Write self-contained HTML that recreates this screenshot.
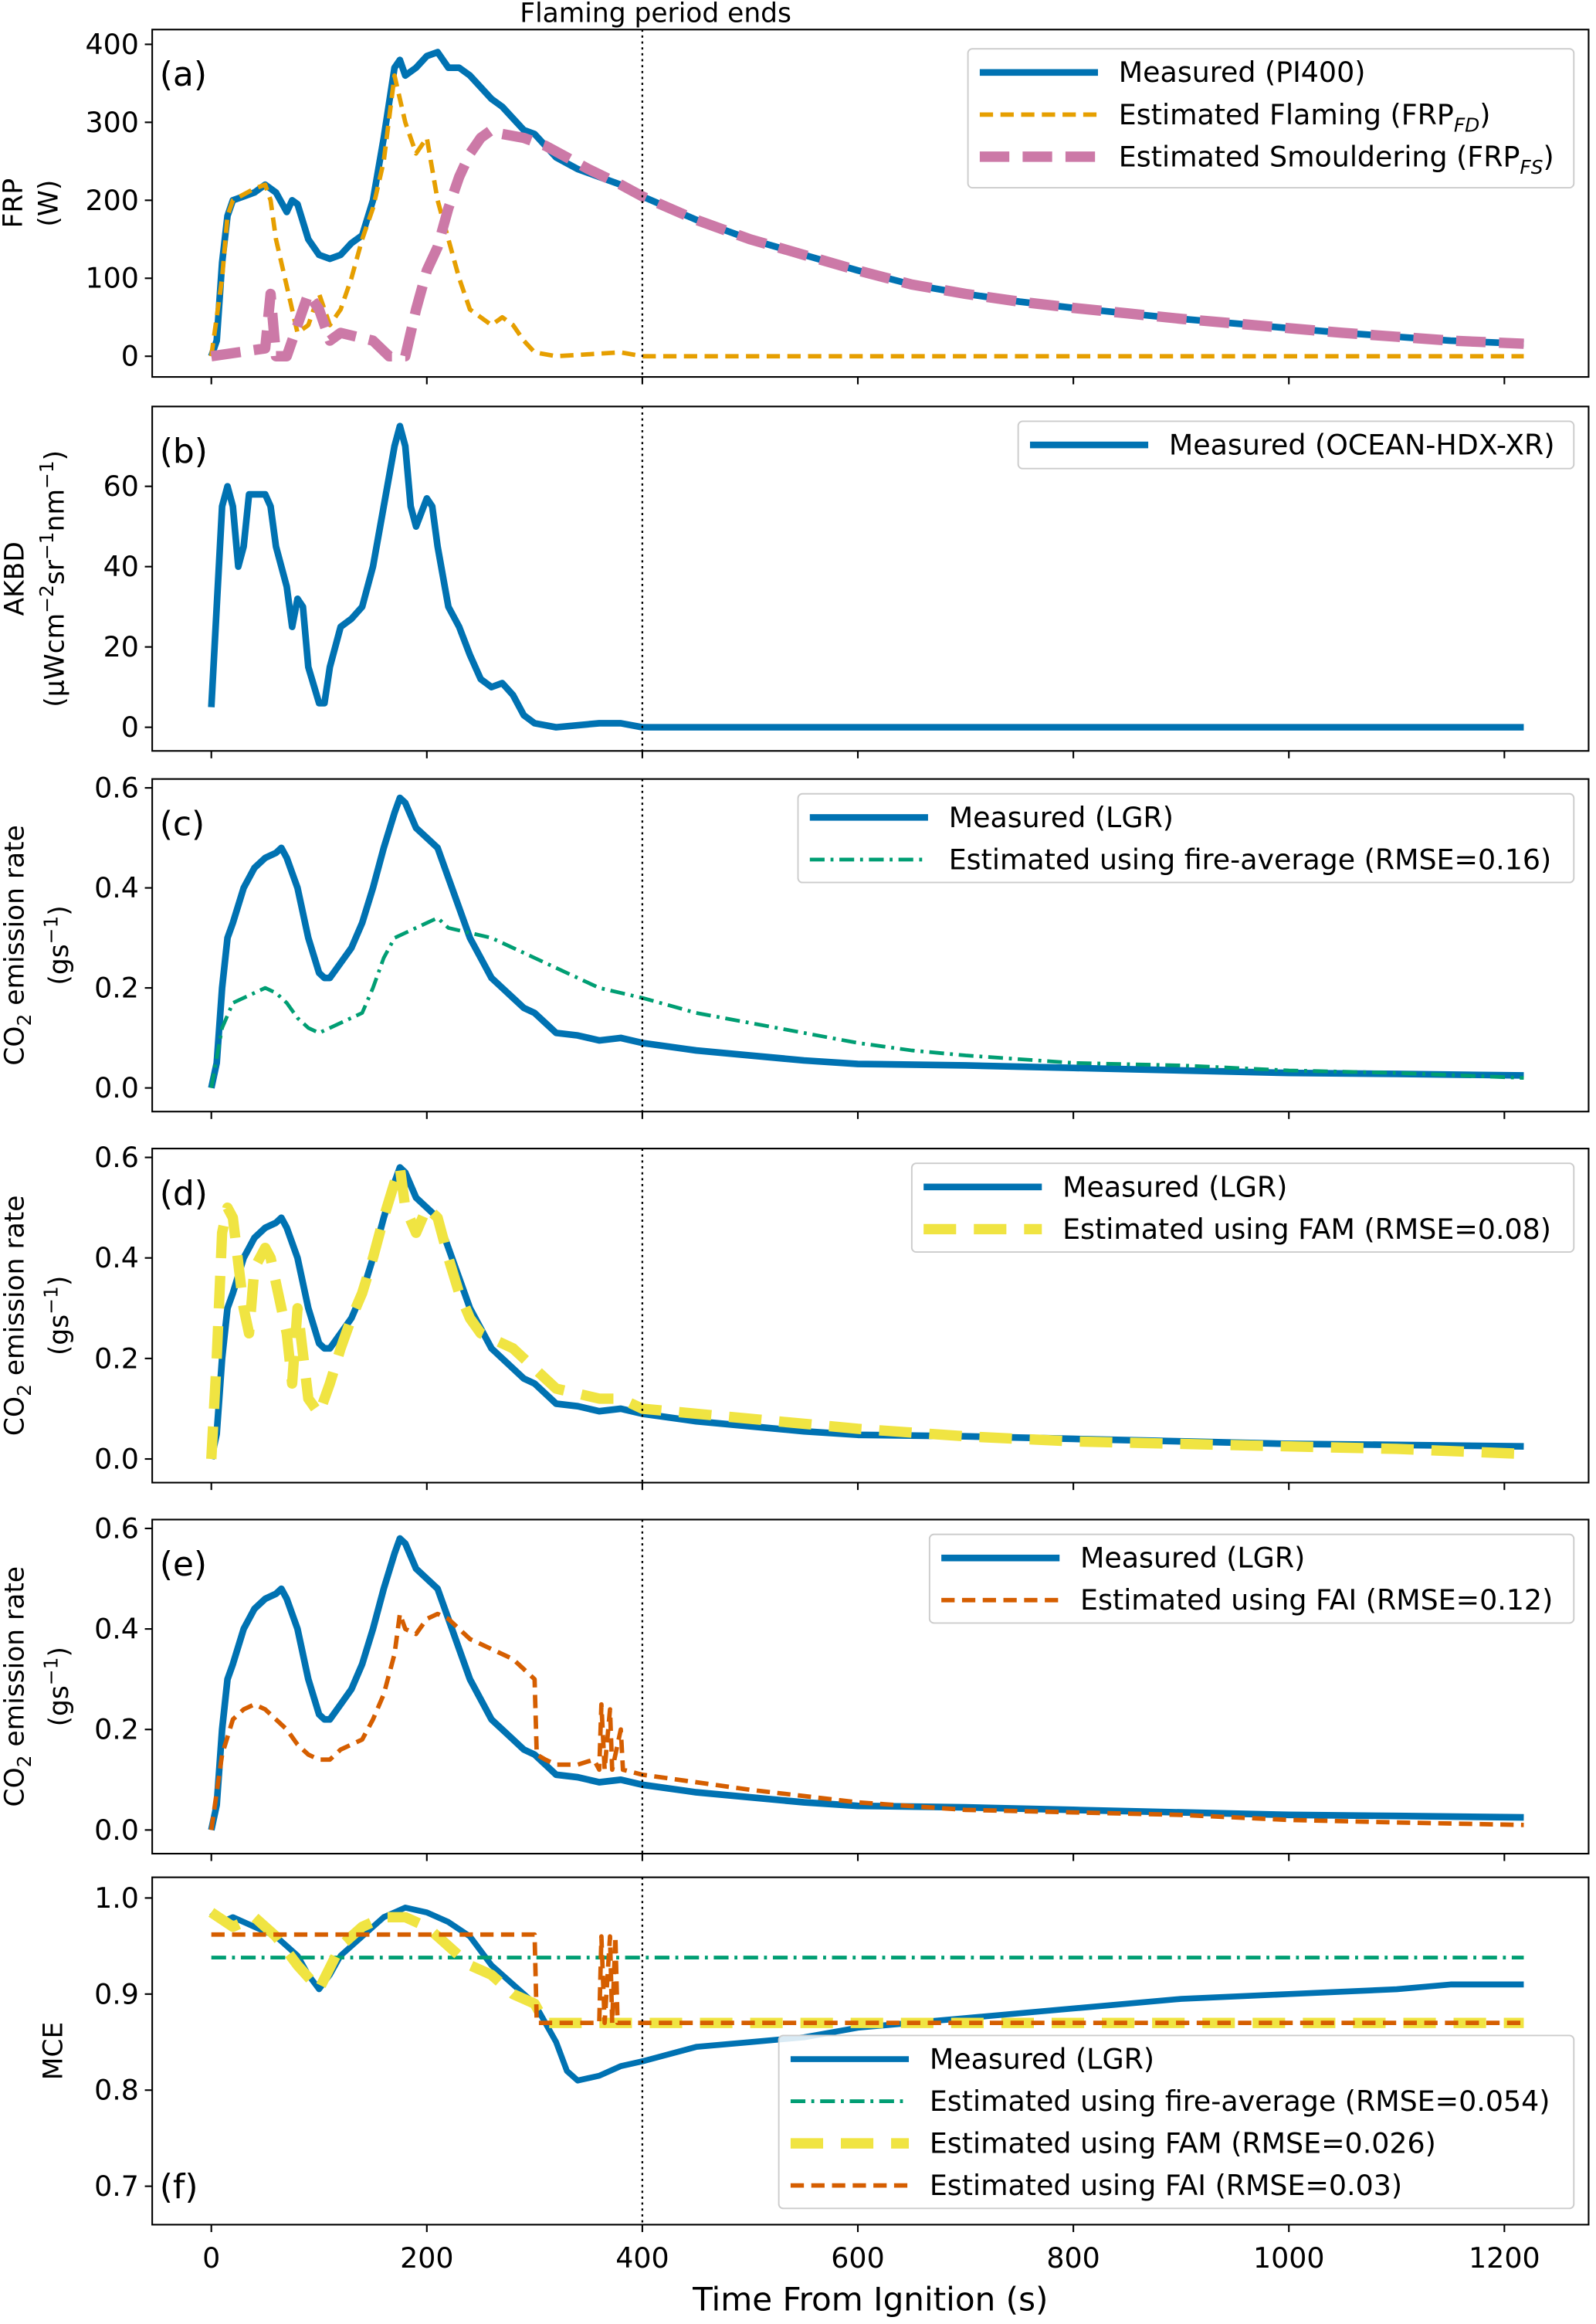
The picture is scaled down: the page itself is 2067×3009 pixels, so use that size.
<!DOCTYPE html>
<html><head><meta charset="utf-8"><style>html,body{margin:0;padding:0;background:#fff}svg{display:block}text{font-family:"DejaVu Sans","Liberation Sans",sans-serif;fill:#000}</style></head>
<body>
<svg id="chart" width="2067" height="3009" viewBox="0 0 1080 1572.2" xmlns="http://www.w3.org/2000/svg"></svg>
<script>
// ---- data ----
const xTicks=[0,200,400,600,800,1000,1200];
const frpT=[0,5,10,15,20,30,40,50,60,70,75,80,90,100,110,120,130,140,150,160,170,175,180,190,200,210,220,230,240,250,260,270,280,290,300,310,320,340,360,380,400,450,500,550,600,650,700,750,800,850,900,950,1000,1050,1100,1150,1218];
const frpMeasured=[0,20,120,180,200,205,210,220,210,185,200,195,150,130,125,130,145,155,200,280,370,380,360,370,385,390,370,370,360,345,330,320,305,290,285,270,255,240,230,220,205,175,150,130,110,92,80,70,62,55,48,42,36,30,25,20,16];
const flT=[0,10,15,20,40,50,55,60,70,80,90,100,110,120,130,140,150,160,170,180,190,200,210,220,230,240,250,260,270,280,290,300,320,380,400,1218];
const frpFlaming=[0,100,180,200,215,220,200,150,90,30,40,80,40,60,100,150,190,250,360,300,260,280,200,150,100,60,50,40,50,40,20,5,0,5,0,0];
const smT=[0,50,55,60,70,80,90,100,110,120,150,165,180,190,200,210,220,230,240,250,260,270,290,310,330,350,380,400,450,500,550,600,650,700,750,800,850,900,950,1000,1050,1100,1150,1218];
const frpSmoulder=[0,10,80,0,0,40,80,60,20,30,20,0,0,60,110,140,190,230,260,280,290,285,280,270,255,240,220,205,175,150,130,110,92,80,70,62,55,48,42,36,30,25,20,16];
const akT=[0,5,10,15,20,25,30,35,40,50,55,60,70,75,80,85,90,100,105,110,120,130,140,150,160,170,175,180,185,190,200,205,210,220,230,240,250,260,270,280,290,300,320,360,380,400,1218];
const akbd=[5,30,55,60,55,40,45,58,58,58,55,45,35,25,32,30,15,6,6,15,25,27,30,40,55,70,75,70,55,50,57,55,45,30,25,18,12,10,11,8,3,1,0,1,1,0,0];
const coT=[0,5,10,15,20,30,40,50,60,65,70,80,90,100,105,110,120,130,140,150,160,170,175,180,190,200,210,220,230,240,250,260,270,280,290,300,310,320,340,360,380,400,450,500,550,600,700,800,900,1000,1100,1218];
const coMeasured=[0,0.05,0.2,0.3,0.33,0.4,0.44,0.46,0.47,0.48,0.46,0.4,0.3,0.23,0.22,0.22,0.25,0.28,0.33,0.4,0.48,0.55,0.58,0.57,0.52,0.5,0.48,0.42,0.36,0.3,0.26,0.22,0.2,0.18,0.16,0.15,0.13,0.11,0.105,0.095,0.1,0.09,0.075,0.065,0.055,0.048,0.045,0.04,0.035,0.03,0.028,0.025];
const faT=[0,10,20,40,50,60,70,80,90,100,110,120,140,150,160,170,180,200,210,220,240,260,280,300,320,340,360,380,400,450,500,550,600,650,700,800,900,1000,1100,1218];
const coFireAvg=[0,0.12,0.17,0.19,0.2,0.19,0.17,0.14,0.12,0.11,0.12,0.13,0.15,0.2,0.26,0.3,0.31,0.33,0.34,0.32,0.31,0.3,0.28,0.26,0.24,0.22,0.2,0.19,0.18,0.15,0.13,0.11,0.09,0.075,0.065,0.05,0.045,0.035,0.03,0.02];
const famT=[0,5,10,15,20,30,35,40,50,55,60,70,75,80,90,100,110,120,130,140,150,160,170,175,180,190,200,210,220,230,240,250,260,280,300,320,340,360,380,400,500,600,700,800,900,1000,1100,1218];
const coFAM=[0,0.2,0.45,0.5,0.48,0.3,0.25,0.38,0.42,0.4,0.35,0.25,0.15,0.3,0.12,0.09,0.15,0.22,0.28,0.33,0.4,0.48,0.55,0.58,0.5,0.45,0.5,0.48,0.4,0.33,0.28,0.25,0.24,0.22,0.18,0.14,0.13,0.12,0.12,0.1,0.08,0.06,0.045,0.035,0.03,0.025,0.02,0.01];
const faiT=[0,10,20,30,40,50,60,70,80,90,100,110,120,140,150,160,170,175,180,190,200,210,220,240,260,280,290,300,302,310,320,340,355,360,362,365,370,372,380,382,400,500,600,700,800,900,1000,1100,1218];
const coFAI=[0,0.15,0.22,0.24,0.25,0.24,0.22,0.2,0.17,0.15,0.14,0.14,0.16,0.18,0.22,0.27,0.35,0.43,0.4,0.39,0.42,0.43,0.42,0.38,0.36,0.34,0.32,0.3,0.15,0.14,0.13,0.13,0.14,0.12,0.25,0.12,0.24,0.12,0.2,0.12,0.11,0.08,0.055,0.04,0.035,0.03,0.02,0.015,0.01];
const mceT=[0,10,20,40,60,80,90,100,110,120,140,160,180,200,220,240,260,280,300,310,320,330,340,360,380,400,450,500,550,600,700,800,900,1000,1100,1150,1218];
const mceMeasured=[0.985,0.975,0.98,0.97,0.96,0.94,0.92,0.905,0.92,0.94,0.96,0.98,0.99,0.985,0.975,0.96,0.93,0.91,0.89,0.87,0.85,0.82,0.81,0.815,0.825,0.83,0.845,0.85,0.855,0.865,0.875,0.885,0.895,0.9,0.905,0.91,0.91];
const mceFaT=[0,1218];
const mceFireAvg=[0.938,0.938];
const mceFamT=[0,20,40,60,80,100,120,140,160,180,200,220,240,260,280,300,310,1218];
const mceFAM=[0.985,0.97,0.98,0.96,0.93,0.905,0.95,0.97,0.98,0.98,0.97,0.95,0.93,0.92,0.9,0.89,0.87,0.87];
const mceFaiT=[0,300,302,360,362,365,370,372,375,377,1218];
const mceFAI=[0.962,0.962,0.87,0.87,0.96,0.87,0.96,0.87,0.96,0.87,0.87];

// ---- drawing ----
const svg=document.getElementById('chart');
const NS='http://www.w3.org/2000/svg';
const L=103,R=1075,X0=143,XS=(1018-143)/1200;
const xs=v=>X0+v*XS;
function mk(tag,at,parent){const e=document.createElementNS(NS,tag);for(const k in at)e.setAttribute(k,at[k]);(parent||svg).appendChild(e);return e;}
function txt(s,x,y,size,anchor,parent){const t=mk('text',{x:x,y:y,'font-size':size,'text-anchor':anchor||'middle'},parent);t.innerHTML=s;return t;}
const C={blue:'#0072b2',orange:'#e69f00',pink:'#cc79a7',green:'#009e73',yellow:'#f0e442',red:'#d55e00'};

function panel(p){
  const g=mk('g',{});
  
  
  const ys=v=>p.y0+(v-p.v0)*(p.y1-p.y0)/(p.v1-p.v0);
  const clip=mk('clipPath',{id:'clip'+p.id},g);
  mk('rect',{x:L,y:p.top,width:R-L,height:p.bot-p.top},clip);
  const sg=mk('g',{'clip-path':'url(#clip'+p.id+')'},g);
  p.series.forEach(s=>{
    const pts=s.t.map((t,i)=>xs(t).toFixed(2)+','+ys(s.v[i]).toFixed(2)).join(' ');
    const pl=mk('polyline',{points:pts,fill:'none',stroke:s.c,'stroke-width':s.w,'stroke-dasharray':s.d||'none','stroke-linejoin':'round'},sg);
    
    
  });
  mk('line',{x1:xs(400),x2:xs(400),y1:p.top,y2:p.bot,stroke:'#000','stroke-width':1.2,'stroke-dasharray':'1.5,2.5'},g);
  const fr=mk('rect',{x:L,y:p.top,width:R-L,height:p.bot-p.top,fill:'none',stroke:'#000','stroke-width':1.1},g);
  
  
  p.yt.forEach((v,i)=>{const y=ys(v);mk('line',{x1:L-5,x2:L,y1:y,y2:y,stroke:'#000','stroke-width':1.1},g);
    const t=txt(p.ytl[i],L-9,y+6.5,19,'end',g);});
  xTicks.forEach(v=>{mk('line',{x1:xs(v),x2:xs(v),y1:p.bot,y2:p.bot+5,stroke:'#000','stroke-width':1.1},g);});
  const pl=txt('('+p.id+')',108,p.id==='f'?1487:p.top+38,23,'start',g);
  
  const yt=mk('text',{transform:'translate('+p.ytx+','+((p.top+p.bot)/2)+') rotate(-90)','font-size':18,'text-anchor':'middle'},g);
  yt.innerHTML=p.ytitle;
  
  const lg=p.leg;const lgG=mk('g',{},g);
  
  mk('rect',{x:lg.x,y:lg.y,width:R-10-lg.x,height:lg.h,fill:'#fff','fill-opacity':0.85,stroke:'#ccc','stroke-width':1,rx:3},lgG);
  p.series.forEach((s,i)=>{if(!s.label)return;const yy=lg.y+16+i*28.5;
    mk('line',{x1:lg.x+8,x2:lg.x+88,y1:yy,y2:yy,stroke:s.c,'stroke-width':s.w,'stroke-dasharray':s.d||'none'},lgG);
    const t=txt(s.label,lg.x+102,yy+6.5,19,'start',lgG);});
}

const coYt=[0,0.2,0.4,0.6],coYl=['0.0','0.2','0.4','0.6'];
const coTitle='<tspan x="0" dy="-6">CO<tspan font-size="13" dy="5">2</tspan><tspan dy="-5"> emission rate</tspan></tspan><tspan x="0" dy="30">(gs<tspan font-size="13" dy="-7">−1</tspan><tspan dy="7">)</tspan></tspan>';
const meas=(n)=>({name:'measured-co2-line-'+n,t:coT,v:coMeasured,c:C.blue,w:4.5,label:'Measured (LGR)'});

panel({id:'a',top:20,bot:255,y0:241,v0:0,y1:30,v1:400,yt:[0,100,200,300,400],ytl:['0','100','200','300','400'],ytx:20,
 ytitle:'<tspan x="0" dy="-5">FRP</tspan><tspan x="0" dy="24">(W)</tspan>',
 leg:{x:655,y:33,h:94},
 series:[{name:'measured-frp-line',t:frpT,v:frpMeasured,c:C.blue,w:4.5,label:'Measured (PI400)'},
  {name:'flaming-frp-line',t:flT,v:frpFlaming,c:C.orange,w:3,d:'9,5',label:'Estimated Flaming (FRP<tspan font-size="13" font-style="italic" dy="5">FD</tspan><tspan dy="-5">)</tspan>'},
  {name:'smouldering-frp-line',t:smT,v:frpSmoulder,c:C.pink,w:7,d:'20,9',label:'Estimated Smouldering (FRP<tspan font-size="13" font-style="italic" dy="5">FS</tspan><tspan dy="-5">)</tspan>'}]});
panel({id:'b',top:275,bot:508,y0:492,v0:0,y1:329,v1:60,yt:[0,20,40,60],ytl:['0','20','40','60'],ytx:22,
 ytitle:'<tspan x="0" dy="-6">AKBD</tspan><tspan x="0" dy="27">(μWcm<tspan font-size="13" dy="-7">−2</tspan><tspan dy="7">sr</tspan><tspan font-size="13" dy="-7">−1</tspan><tspan dy="7">nm</tspan><tspan font-size="13" dy="-7">−1</tspan><tspan dy="7">)</tspan></tspan>',
 leg:{x:689,y:285,h:32},
 series:[{name:'akbd-line',t:akT,v:akbd,c:C.blue,w:4.5,label:'Measured (OCEAN-HDX-XR)'}]});
panel({id:'c',top:527,bot:752,y0:736,v0:0,y1:533,v1:0.6,yt:coYt,ytl:coYl,ytx:22,ytitle:coTitle,leg:{x:540,y:537,h:60},
 series:[meas('c'),{name:'fire-average-co2-line',t:faT,v:coFireAvg,c:C.green,w:2.5,d:'10,4,2,4',label:'Estimated using fire-average (RMSE=0.16)'}]});
panel({id:'d',top:777,bot:1003,y0:987,v0:0,y1:783,v1:0.6,yt:coYt,ytl:coYl,ytx:22,ytitle:coTitle,leg:{x:617,y:787,h:60},
 series:[meas('d'),{name:'fam-co2-line',t:famT,v:coFAM,c:C.yellow,w:7,d:'22,12',label:'Estimated using FAM (RMSE=0.08)'}]});
panel({id:'e',top:1028,bot:1254,y0:1238,v0:0,y1:1034,v1:0.6,yt:coYt,ytl:coYl,ytx:22,ytitle:coTitle,leg:{x:629,y:1038,h:60},
 series:[meas('e'),{name:'fai-co2-line',t:faiT,v:coFAI,c:C.red,w:3,d:'9,5',label:'Estimated using FAI (RMSE=0.12)'}]});
panel({id:'f',top:1270,bot:1505,y0:1479,v0:0.7,y1:1284,v1:1.0,yt:[0.7,0.8,0.9,1.0],ytl:['0.7','0.8','0.9','1.0'],ytx:42,
 ytitle:'MCE',leg:{x:527,y:1377,h:117},
 series:[{name:'measured-mce-line',t:mceT,v:mceMeasured,c:C.blue,w:4,label:'Measured (LGR)'},
  {name:'fire-average-mce-line',t:mceFaT,v:mceFireAvg,c:C.green,w:2.5,d:'10,4,2,4',label:'Estimated using fire-average (RMSE=0.054)'},
  {name:'fam-mce-line',t:mceFamT,v:mceFAM,c:C.yellow,w:7,d:'22,12',label:'Estimated using FAM (RMSE=0.026)'},
  {name:'fai-mce-line',t:mceFaiT,v:mceFAI,c:C.red,w:3,d:'9,5',label:'Estimated using FAI (RMSE=0.03)'}]});

xTicks.forEach(v=>{const t=txt(String(v),xs(v),1534,19,'middle');});
const xt=txt('Time From Ignition (s)',(L+R)/2,1563,22,'middle');

const ft=txt('Flaming period ends',xs(400)+9,15,18,'middle');

</script>
</body></html>
